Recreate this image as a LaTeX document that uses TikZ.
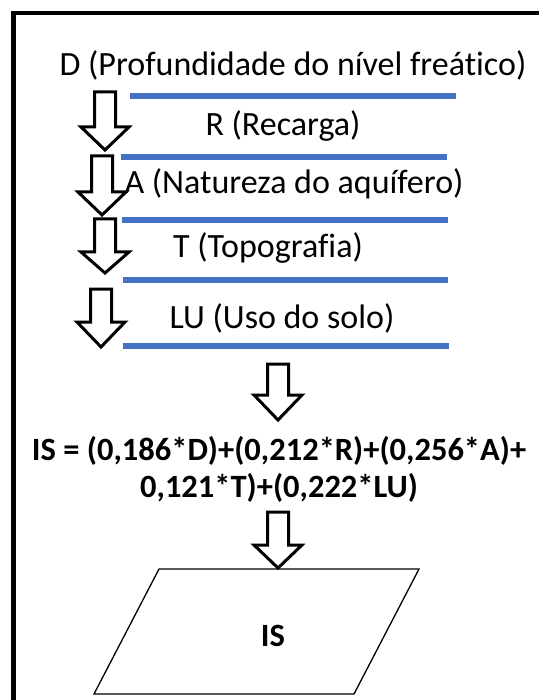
\documentclass[tikz,border=0pt]{standalone}
\usepackage{fontspec}
\setmainfont{Carlito}[Ligatures=NoCommon]
\definecolor{barblue}{HTML}{4472C4}
\tikzset{
  factor/.style={inner sep=0pt, anchor=base, font=\fontsize{34}{40}\selectfont},
  formula/.style={inner sep=0pt, anchor=base, font=\fontsize{32.5}{40}\selectfont\bfseries},
  bar/.style={draw=barblue, line width=6pt},
  blockarrow/.style={draw=black, fill=white, line width=3pt, line join=miter},
  frameline/.style={draw=black, line width=4.5pt, line join=miter},
  outputbox/.style={draw=black, line width=1.3pt, line join=miter}
}
% hollow downward block arrow: centre x, top, head base, tip
\newcommand\hollowdown[4]{%
  \draw[blockarrow] ({#1-10.5},#2) -- ({#1+10.5},#2) -- ({#1+10.5},#3) -- ({#1+24},#3)
    -- (#1,#4) -- ({#1-24},#3) -- ({#1-10.5},#3) -- cycle;}
\begin{document}
\begin{tikzpicture}[x=1pt,y=-1pt]
\useasboundingbox (0,0) rectangle (539,700);
\fill[white] (0,0) rectangle (539,700);

% outer frame (left and top sides)
\draw[frameline] (13.5,700) -- (13.5,13) -- (539,13);

% factors and separators
\node[factor] (d)  at (293,76)  {D (Profundidade do nível freático)};
\draw[bar] (130,96.5) -- (456,96.5);
\node[factor] (r)  at (283,136) {R (Recarga)};
\draw[bar] (121,157.5) -- (447,157.5);
\node[factor] (a)  at (294,194) {A (Natureza do aquífero)};
\draw[bar] (122,220) -- (448,220);
\node[factor] (t)  at (268,258) {T (Topografia)};
\draw[bar] (123,280) -- (448,280);
\node[factor] (lu) at (282,328) {LU (Uso do solo)};
\draw[bar] (123,346) -- (449,346);

% arrows along the factor list
\hollowdown{105}{92}{127}{150}
\hollowdown{102}{156}{192}{215}
\hollowdown{105}{219}{252}{273}
\hollowdown{101}{289}{322}{347}

% weighted sum
\hollowdown{278}{364}{395}{420}
\node[formula] (f1) at (279,460) {IS = (0,186*D)+(0,212*R)+(0,256*A)+};
\node[formula] (f2) at (279,497) {0,121*T)+(0,222*LU)};
\hollowdown{278}{512}{545}{568}

% output
\draw[outputbox] (159,569) -- (419,569) -- (354,694) -- (94,694) -- cycle;
\node[formula] (is) at (273,646) {IS};
\end{tikzpicture}
\end{document}
